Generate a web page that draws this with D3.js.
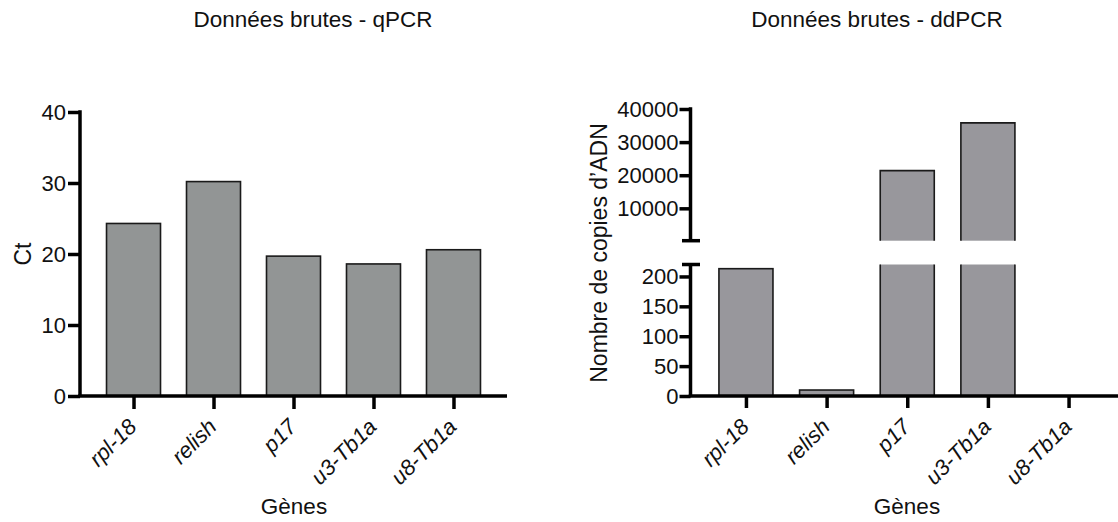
<!DOCTYPE html>
<html>
<head>
<meta charset="utf-8">
<script src="https://cdn.jsdelivr.net/npm/d3@7"></script>
<style>
  html, body { margin: 0; padding: 0; background: #fff; }
  svg text { font-family: "Liberation Sans", Arial, Helvetica, sans-serif; fill: #111; }
</style>
</head>
<body>
<svg id="chart" width="1118" height="522"></svg>
<script>
// ---- data ----
const genes = ["rpl-18", "relish", "p17", "u3-Tb1a", "u8-Tb1a"];
const qpcrCt = [24.3, 30.2, 19.7, 18.6, 20.6];
const ddpcrCopies = [213, 10, 21400, 35800, 0];
const qpcrTicks = [0, 10, 20, 30, 40];
const ddpcrLowTicks = [0, 50, 100, 150, 200];
const ddpcrHighTicks = [10000, 20000, 30000, 40000];
const breakValue = 220;
const titles = ["Données brutes - qPCR", "Données brutes - ddPCR"];
const yLabels = ["Ct", "Nombre de copies d\u2019ADN"];
const xLabel = "Gènes";

const svg = d3.select("#chart");
const AXW = 3.5;
const FS = 22;
const fmt = d3.format("d");

function styleAxis(g) {
  g.selectAll("path.domain").remove();
  g.selectAll(".tick line").attr("stroke", "#000").attr("stroke-width", AXW);
  g.selectAll(".tick text").attr("font-size", FS).attr("fill", "#111")
    .attr("font-family", "Liberation Sans, Arial, sans-serif");
}

// ================= LEFT: qPCR =================
{
  const x0 = 80, y0 = 396;
  const y = d3.scaleLinear().domain([0, 40]).range([y0, 112]);
  const x = d3.scalePoint().domain(genes).range([x0, 507]).padding(0.669);
  const bw = x.step() * 0.675;

  svg.append("g").selectAll("rect").data(genes).join("rect")
    .attr("x", d => x(d) - bw / 2)
    .attr("y", (d, i) => y(qpcrCt[i]))
    .attr("width", bw)
    .attr("height", (d, i) => y0 - y(qpcrCt[i]))
    .attr("fill", "#929595").attr("stroke", "#1a1a1a").attr("stroke-width", 1.6);

  const ga = svg.append("g").attr("transform", `translate(${x0},0)`)
    .call(d3.axisLeft(y).tickValues(qpcrTicks).tickFormat(fmt).tickSize(12).tickPadding(2).tickSizeOuter(0));
  styleAxis(ga);
  svg.append("line").attr("x1", x0).attr("x2", x0).attr("y1", y(40) - AXW / 2).attr("y2", y0)
    .attr("stroke", "#000").attr("stroke-width", AXW);

  const gx = svg.append("g").attr("transform", `translate(0,${y0})`)
    .call(d3.axisBottom(x).tickSize(13).tickSizeOuter(0));
  styleAxis(gx);
  gx.selectAll(".tick text")
    .attr("text-anchor", "end").attr("font-style", "italic")
    .attr("y", 0).attr("dy", 0)
    .attr("transform", "translate(4,32) rotate(-45)");
  svg.append("line").attr("x1", x0 - AXW / 2).attr("x2", 507).attr("y1", y0).attr("y2", y0)
    .attr("stroke", "#000").attr("stroke-width", AXW);

  svg.append("text").attr("x", 313).attr("y", 27).attr("text-anchor", "middle")
    .attr("font-size", 22.5).text(titles[0]);
  svg.append("text").attr("transform", `translate(31,254) rotate(-90)`)
    .attr("text-anchor", "middle").attr("font-size", 23).text(yLabels[0]);
  svg.append("text").attr("x", 294).attr("y", 514).attr("text-anchor", "middle")
    .attr("font-size", 22.5).text(xLabel);
}

// ================= RIGHT: ddPCR (broken axis) =================
{
  const x0 = 690.5, y0 = 396;
  const lowTop = 264.5, highBottom = 240.7, highTop = 109;
  const yLow = d3.scaleLinear().domain([0, breakValue]).range([y0, lowTop]);
  const yHigh = d3.scaleLinear().domain([breakValue, 40000]).range([highBottom, highTop]);
  const x = d3.scalePoint().domain(genes).range([x0, 1124]).padding(0.6875);
  const bw = x.step() * 0.67;
  const fill = "#98979c", stroke = "#1a1a1a", sw = 1.6;

  const bars = svg.append("g");
  genes.forEach((g, i) => {
    const v = ddpcrCopies[i];
    const xl = x(g) - bw / 2, xr = x(g) + bw / 2;
    if (v <= 0) return;
    if (v <= breakValue) {
      bars.append("rect").attr("x", xl).attr("y", yLow(v)).attr("width", bw)
        .attr("height", y0 - yLow(v)).attr("fill", fill).attr("stroke", stroke).attr("stroke-width", sw);
    } else {
      // lower part (no top edge)
      bars.append("rect").attr("x", xl).attr("y", lowTop).attr("width", bw)
        .attr("height", y0 - lowTop).attr("fill", fill);
      bars.append("path").attr("d", `M${xl},${lowTop}V${y0}H${xr}V${lowTop}`)
        .attr("fill", "none").attr("stroke", stroke).attr("stroke-width", sw);
      // upper part (no bottom edge)
      bars.append("rect").attr("x", xl).attr("y", yHigh(v)).attr("width", bw)
        .attr("height", highBottom - yHigh(v)).attr("fill", fill);
      bars.append("path").attr("d", `M${xl},${highBottom}V${yHigh(v)}H${xr}V${highBottom}`)
        .attr("fill", "none").attr("stroke", stroke).attr("stroke-width", sw);
    }
  });

  const gl = svg.append("g").attr("transform", `translate(${x0},0)`)
    .call(d3.axisLeft(yLow).tickValues(ddpcrLowTicks).tickFormat(fmt).tickSize(11).tickPadding(1).tickSizeOuter(0));
  styleAxis(gl);
  const gh = svg.append("g").attr("transform", `translate(${x0},0)`)
    .call(d3.axisLeft(yHigh).tickValues(ddpcrHighTicks).tickFormat(fmt).tickSize(11).tickPadding(1).tickSizeOuter(0));
  styleAxis(gh);

  const axLine = (x1, y1, x2, y2) => svg.append("line").attr("x1", x1).attr("y1", y1)
    .attr("x2", x2).attr("y2", y2).attr("stroke", "#000").attr("stroke-width", AXW);
  axLine(x0, lowTop, x0, y0);
  axLine(x0, highTop - AXW / 2, x0, highBottom);
  // break caps
  axLine(x0 - 8.5, lowTop, x0 + 9.5, lowTop);
  axLine(x0 - 8.5, highBottom, x0 + 9.5, highBottom);

  const gx = svg.append("g").attr("transform", `translate(0,${y0})`)
    .call(d3.axisBottom(x).tickSize(12).tickSizeOuter(0));
  styleAxis(gx);
  gx.selectAll(".tick text")
    .attr("text-anchor", "end").attr("font-style", "italic")
    .attr("y", 0).attr("dy", 0)
    .attr("transform", "translate(4,32) rotate(-45)");
  axLine(x0 - AXW / 2, y0, 1120, y0);

  svg.append("text").attr("x", 877).attr("y", 27).attr("text-anchor", "middle")
    .attr("font-size", 22.5).text(titles[1]);
  svg.append("text").attr("transform", `translate(607,253) rotate(-90)`)
    .attr("text-anchor", "middle").attr("font-size", 23).text(yLabels[1]);
  svg.append("text").attr("x", 907).attr("y", 514).attr("text-anchor", "middle")
    .attr("font-size", 22.5).text(xLabel);
}
</script>
</body>
</html>
